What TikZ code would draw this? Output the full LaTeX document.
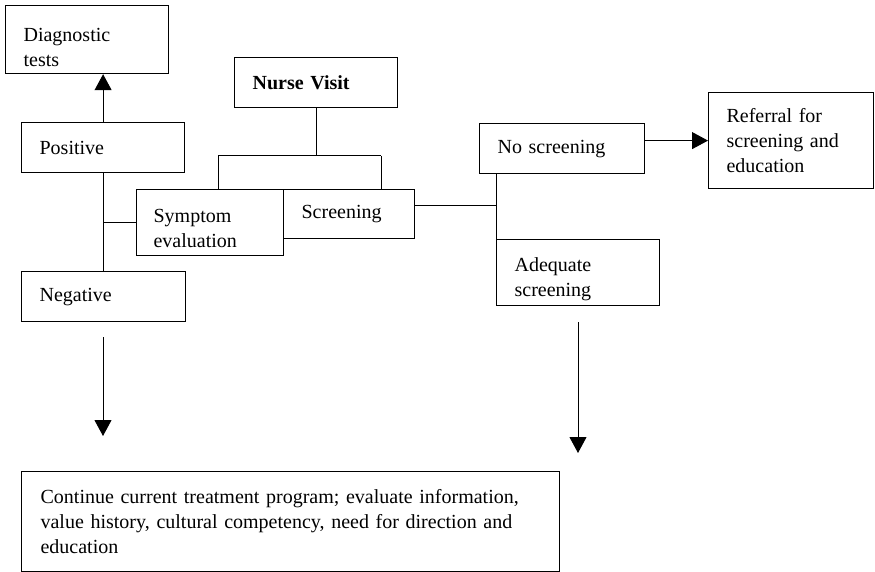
\documentclass[tikz,border=0pt]{standalone}
\usepackage{fontspec}
\setmainfont{Liberation Serif}
\usetikzlibrary{arrows.meta}
\newcommand{\lowerby}[1]{\rule{0pt}{#1}}
\begin{document}
\begin{tikzpicture}[x=1pt,y=-1pt,
  box/.style={draw, line width=1.2pt, rectangle, anchor=north west,
    inner xsep=18pt, inner ysep=0pt, align=left,
    font=\fontsize{20}{25}\selectfont},
  link/.style={line width=1pt},
  arr/.style={line width=1pt, -{Triangle[width=17pt,length=16pt]}}]
\useasboundingbox (0,0) rectangle (875,572);

% boxes: top-left corner, width, height
\node[box, minimum width=163pt, minimum height=68pt, text width=127pt] (diag) at (5,5) {\lowerby{28pt}Diagnostic\\tests};
\node[box, minimum width=163pt, minimum height=50pt, text width=127pt] (pos) at (21,122) {Positive};
\node[box, minimum width=164pt, minimum height=50pt, text width=128pt] (neg) at (21,271) {Negative};
\node[box, minimum width=147pt, minimum height=66pt, text width=113pt, inner xsep=17pt] (sym) at (136,189) {\lowerby{24pt}Symptom\\evaluation};
\node[box, minimum width=131pt, minimum height=49pt, text width=95pt] (scr) at (283,189) {Screening};
\node[box, minimum width=163pt, minimum height=50pt, text width=127pt] (nurse) at (234,57) {\textbf{Nurse Visit}};
\node[box, minimum width=165pt, minimum height=50pt, text width=129pt] (ns) at (479,123) {No screening};
\node[box, minimum width=163pt, minimum height=66pt, text width=127pt] (adq) at (496,239) {\lowerby{28pt}Adequate\\screening};
\node[box, minimum width=165pt, minimum height=96pt, text width=129pt] (ref) at (708,92) {Referral for\\screening and\\education};
\node[box, minimum width=538pt, minimum height=100pt, text width=500pt, inner xsep=19pt] (cont) at (21,471)
  {Continue current treatment program; evaluate information,\\value history, cultural competency, need for direction and\\education};

% junction points
\coordinate (ja) at (218,156);
\coordinate (jb) at (381,156);
\coordinate (sx) at (496,206);
\coordinate (negout) at (103,337);
\coordinate (negend) at (103,436);
\coordinate (adqout) at (578,322);
\coordinate (adqend) at (578,453);

% connectors
\draw[arr] (pos.north) -- (pos.north |- diag.south);
\draw[link] (pos.south) -- (pos.south |- neg.north);
\draw[link] (sym.west) -- (sym.west -| pos.south);
\draw[link] (nurse.south) -- (nurse.south |- ja);
\draw[link] (ja) -- (jb);
\draw[link] (ja) -- (ja |- sym.north);
\draw[link] (jb) -- (jb |- scr.north);
\draw[link] (scr.east |- sx) -- (sx);
\draw[link] (sx |- ns.south) -- (sx |- adq.north);
\draw[arr] (ns.east |- ref.west) -- (ref.west);
\draw[arr] (negout) -- (negend);
\draw[arr] (adqout) -- (adqend);
\end{tikzpicture}
\end{document}
